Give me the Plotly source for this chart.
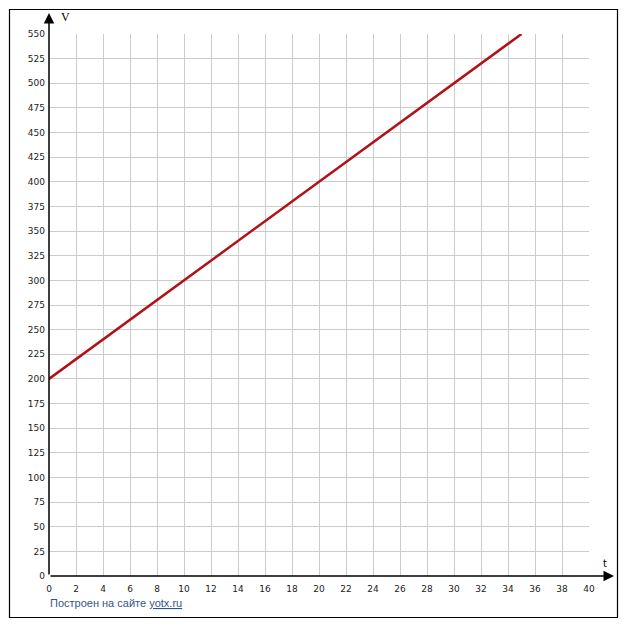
import plotly.graph_objects as go

# Data
t_values = [0, 35]
v_values = [200, 550]
x_ticks = list(range(0, 41, 2))
y_ticks = list(range(0, 551, 25))

OFF = 8  # default page body margin
W, H = 611, 614
# plot area in window pixels: x 49..589, y 34..576
L = 49 - OFF
T = 34 - OFF
R = W - (589 - OFF)
B = H - (576 - OFF)
pw = W - L - R
ph = H - T - B

def px_x(p):
    return (p - OFF - L) / pw

def px_y(p):
    return (H - B - (p - OFF)) / ph

fig = go.Figure()
fig.add_trace(go.Scatter(x=t_values, y=v_values, mode="lines",
                         line=dict(color="#b01218", width=2.5),
                         hoverinfo="skip", showlegend=False))

tick_font = dict(family="DejaVu Sans", size=9, color="#222222")
fig.update_xaxes(range=[0, 40], tickvals=x_ticks, ticktext=[str(v) for v in x_ticks],
                 showgrid=True, gridcolor="#cccccc", gridwidth=1, zeroline=False,
                 showline=False, ticks="", tickfont=tick_font, fixedrange=True,
                 ticklabelstandoff=6)
fig.update_yaxes(range=[0, 550], tickvals=y_ticks, ticktext=[str(v) for v in y_ticks],
                 showgrid=True, gridcolor="#cccccc", gridwidth=1, zeroline=False,
                 showline=False, ticks="", tickfont=tick_font, fixedrange=True,
                 ticklabelstandoff=3)

shapes = [
    dict(type="rect", xref="paper", yref="paper",
         x0=px_x(9.5), x1=px_x(617.5), y0=px_y(617.5), y1=px_y(9.5),
         line=dict(color="black", width=1.2), fillcolor="rgba(0,0,0,0)", layer="below"),
]

annotations = [
    # y axis arrow
    dict(xref="paper", yref="paper", x=0, y=px_y(13), ax=0, ay=563,
         axref="pixel", ayref="pixel", showarrow=True, arrowhead=2, arrowsize=1.4,
         arrowwidth=1.5, arrowcolor="black", text=""),
    # x axis arrow
    dict(xref="paper", yref="paper", x=px_x(614), y=0, ax=-565, ay=0,
         axref="pixel", ayref="pixel", showarrow=True, arrowhead=2, arrowsize=1.4,
         arrowwidth=1.5, arrowcolor="black", text=""),
    dict(xref="paper", yref="paper", x=px_x(59), y=px_y(17), text="V",
         showarrow=False, xanchor="left", yanchor="middle",
         font=dict(family="Liberation Serif", size=12, color="black")),
    dict(xref="paper", yref="paper", x=px_x(605), y=px_y(563), text="t",
         showarrow=False, xanchor="center", yanchor="middle",
         font=dict(family="DejaVu Sans", size=10, color="black")),
    dict(xref="paper", yref="paper", x=px_x(48), y=px_y(603),
         text='Построен на сайте <span style="text-decoration:underline">yotx.ru</span>',
         showarrow=False, xanchor="left", yanchor="middle",
         font=dict(family="Liberation Sans", size=11, color="#34558b")),
]

fig.update_layout(width=W, height=H, margin=dict(l=L, r=R, t=T, b=B),
                  paper_bgcolor="white", plot_bgcolor="white",
                  shapes=shapes, annotations=annotations, showlegend=False)

fig.write_html("out.html", config={"displayModeBar": False})
